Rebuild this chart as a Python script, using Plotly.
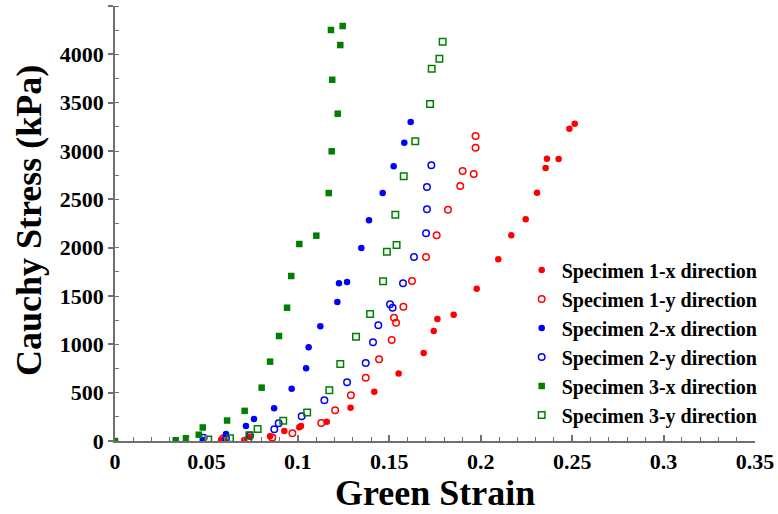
import plotly.graph_objects as go

# Specimen 1-x (red filled circles)
s1x_strain = [0.058, 0.060, 0.0707, 0.0738, 0.0848, 0.0926, 0.1008, 0.1017, 0.1158, 0.1288,
              0.1418, 0.1551, 0.1688, 0.1743, 0.1763, 0.1852, 0.1978, 0.2096, 0.2167, 0.2246,
              0.2308, 0.2355, 0.2362, 0.2426, 0.2485, 0.2514]
s1x_stress = [10, 2, 10, 45, 48, 103, 142, 155, 200, 345,
              510, 697, 910, 1138, 1262, 1307, 1576, 1880, 2128, 2293,
              2569, 2824, 2920, 2917, 3231, 3282]

# Specimen 1-y (red open circles)
s1y_strain = [0.0592, 0.0729, 0.086, 0.097, 0.1128, 0.1204, 0.1290, 0.1371, 0.1444, 0.1513,
              0.1537, 0.1526, 0.1577, 0.1624, 0.1701, 0.1759, 0.1821, 0.1888, 0.1962, 0.1901,
              0.1972, 0.1972]
s1y_stress = [28, 17, 35, 79, 186, 319, 474, 655, 845, 1045,
              1224, 1276, 1390, 1655, 1903, 2128, 2393, 2638, 2762, 2793,
              3034, 3155]

# Specimen 2-x (blue filled circles)
s2x_strain = [0.048, 0.0607, 0.0716, 0.076, 0.087, 0.0966, 0.1045, 0.1059, 0.1123, 0.1216,
              0.1225, 0.1269, 0.1347, 0.1389, 0.1464, 0.1524, 0.1582, 0.1617]
s2x_stress = [10, 72, 155, 228, 338, 541, 752, 969, 1186, 1438,
              1631, 1645, 1997, 2283, 2565, 2842, 3086, 3300]

# Specimen 2-y (blue open circles)
s2y_strain = [0.0485, 0.0607, 0.0738, 0.0871, 0.0895, 0.1021, 0.1145, 0.1269, 0.1371, 0.1411,
              0.1440, 0.1518, 0.1504, 0.1575, 0.1635, 0.1701, 0.1706, 0.1706, 0.1730]
s2y_stress = [34, 28, 57, 121, 183, 257, 422, 607, 807, 1021,
              1197, 1379, 1414, 1631, 1903, 2149, 2397, 2627, 2852]

# Specimen 3-x (green filled squares)
s3x_strain = [0.0, 0.0332, 0.0388, 0.0458, 0.048, 0.0613, 0.0709, 0.0802, 0.0848, 0.0897,
              0.0941, 0.0964, 0.1008, 0.1101, 0.1169, 0.1185, 0.1218, 0.1188, 0.1232, 0.1181,
              0.1245]
s3x_stress = [0, 8, 28, 65, 140, 212, 312, 552, 821, 1086,
              1379, 1707, 2038, 2124, 2565, 2997, 3386, 3737, 4096, 4252,
              4293]

# Specimen 3-y (green open squares)
s3y_strain = [0.051, 0.0629, 0.0735, 0.078, 0.092, 0.1051, 0.1172, 0.1232, 0.1318, 0.1395,
              0.1466, 0.1487, 0.1540, 0.1533, 0.1579, 0.1642, 0.1723, 0.1732, 0.1774, 0.1792]
s3y_stress = [15, 28, 60, 124, 210, 295, 524, 797, 1079, 1314,
              1652, 1958, 2028, 2341, 2738, 3100, 3486, 3851, 3955, 4131]

series_names = ["Specimen 1-x direction", "Specimen 1-y direction",
                "Specimen 2-x direction", "Specimen 2-y direction",
                "Specimen 3-x direction", "Specimen 3-y direction"]

x_tick_vals = [0, 0.05, 0.1, 0.15, 0.2, 0.25, 0.3, 0.35]
x_tick_text = ["0", "0.05", "0.1", "0.15", "0.2", "0.25", "0.3", "0.35"]
y_tick_vals = [0, 500, 1000, 1500, 2000, 2500, 3000, 3500, 4000, 4500]
y_tick_text = ["0", "500", "1000", "1500", "2000", "2500", "3000", "3500", "4000", "4500"]

RED, BLUE, GREEN = "#ff0000", "#0000ff", "#008000"
SERIF = "Liberation Serif"

fig = go.Figure()

def add(x, y, name, color, symbol, filled):
    if filled:
        marker = dict(color=color, symbol=symbol, size=6.5, line=dict(width=0))
    else:
        marker = dict(color=color, symbol=symbol + "-open", size=6.5, line=dict(width=1.5, color=color))
    fig.add_trace(go.Scatter(x=x, y=y, mode="markers", name=name, marker=marker))

add(s1x_strain, s1x_stress, series_names[0], RED, "circle", True)
add(s1y_strain, s1y_stress, series_names[1], RED, "circle", False)
add(s2x_strain, s2x_stress, series_names[2], BLUE, "circle", True)
add(s2y_strain, s2y_stress, series_names[3], BLUE, "circle", False)
add(s3x_strain, s3x_stress, series_names[4], GREEN, "square", True)
add(s3y_strain, s3y_stress, series_names[5], GREEN, "square", False)

axis_color = "#707070"
tickfont = dict(family=SERIF, size=22, color="black", weight="bold")

xaxis = dict(
    range=[0, 0.35], tickmode="array", tickvals=x_tick_vals, ticktext=x_tick_text,
    showgrid=False, zeroline=False,
    showline=True, linecolor=axis_color, linewidth=1.5,
    ticks="inside", ticklen=6, tickwidth=1.5, tickcolor=axis_color,
    minor=dict(dtick=0.01, tick0=0, ticks="inside", ticklen=4, tickwidth=1, tickcolor=axis_color),
    tickfont=tickfont,
)
yaxis = dict(
    range=[0, 4500], tickmode="array", tickvals=y_tick_vals, ticktext=y_tick_text,
    showgrid=False, zeroline=False,
    showline=True, linecolor=axis_color, linewidth=1.5,
    ticks="outside", ticklen=5, tickwidth=1.5, tickcolor=axis_color,
    minor=dict(dtick=250, tick0=0, ticks="inside", ticklen=4, tickwidth=1, tickcolor=axis_color),
    tickfont=tickfont,
)

fig.update_layout(
    template="none",
    width=778, height=514,
    font=dict(family=SERIF, size=22, color="black", weight="bold"),
    xaxis=xaxis, yaxis=yaxis,
    margin=dict(l=115, r=23, t=6, b=73, autoexpand=False),
    plot_bgcolor="white", paper_bgcolor="white",
    showlegend=True,
    legend=dict(
        x=1.012, xanchor="right", y=0.015, yanchor="bottom",
        font=dict(family=SERIF, size=20, color="black", weight="bold"),
        bgcolor="rgba(0,0,0,0)", borderwidth=0, itemsizing="trace",
        tracegroupgap=0, itemwidth=30,
    ),
    annotations=[
        dict(text="<b>Green Strain</b>", x=0.5, xref="paper", y=(441 - 493) / 435, yref="paper",
             xanchor="center", yanchor="middle", showarrow=False,
             font=dict(family=SERIF, size=36, color="black")),
        dict(text="<b>Cauchy Stress (kPa)</b>", x=-115/640 + 29/640, xref="paper",
             y=(441 - 221) / 435, yref="paper", textangle=-90,
             xanchor="center", yanchor="middle", showarrow=False,
             font=dict(family=SERIF, size=36, color="black")),
    ],
)

fig.write_html("out.html")
